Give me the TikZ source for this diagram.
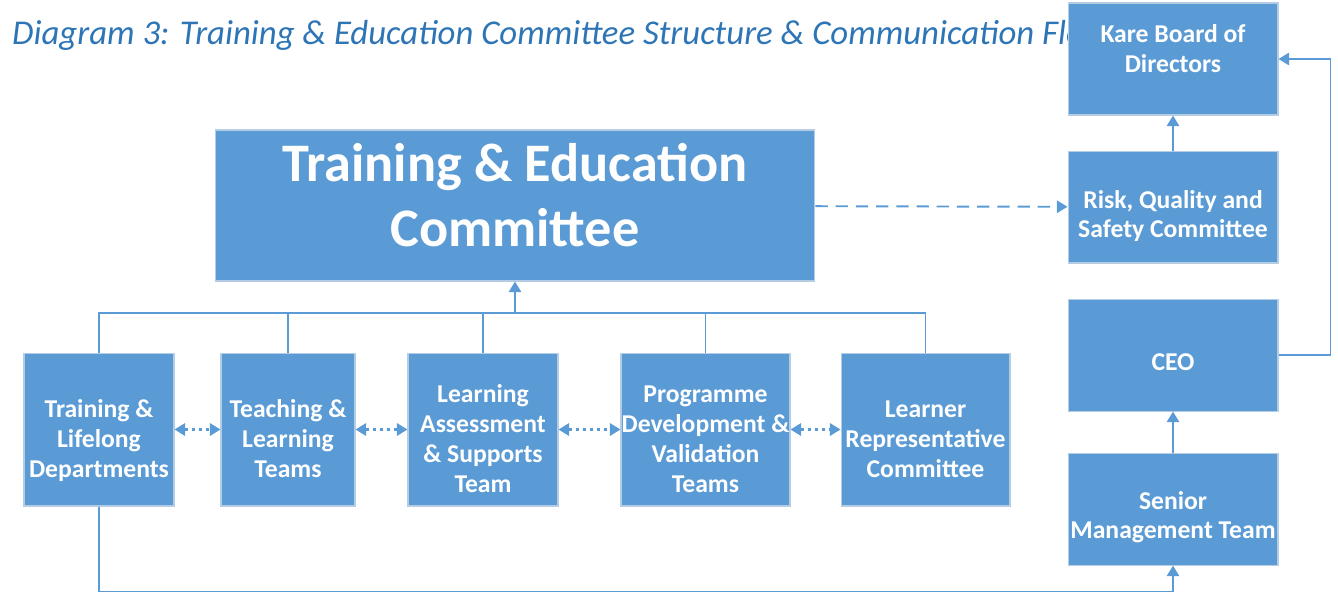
\documentclass[tikz,border=0pt]{standalone}
\usepackage{fontspec}
\setmainfont{Carlito}
\usetikzlibrary{arrows.meta,positioning}
\definecolor{boxblue}{HTML}{5B9BD5}
\definecolor{boxedge}{HTML}{B4CCE4}
\definecolor{titleblue}{HTML}{2E75B6}
\newcommand{\boxlines}[2]{\raisebox{#1}[\height][\depth]{\begin{tabular}{@{}c@{}}#2\end{tabular}}}

\begin{document}
\begin{tikzpicture}[x=0.02cm,y=-0.02cm,node distance=0.7cm,
    >={Triangle[width=7pt,length=6pt]},
    unit/.style={rectangle,fill=boxblue,draw=boxedge,line width=0.6pt,
      text=white,inner sep=0pt,font=\bfseries\fontsize{14.6}{17}\selectfont},
    side/.style={unit,minimum width=4.2cm,minimum height=2.24cm},
    low/.style={unit,minimum height=3.06cm},
    flow/.style={draw=boxblue,line width=1.1pt},
    link/.style={flow,<->,line width=1.3pt,dash pattern=on 2pt off 2pt}]
  \useasboundingbox (0,0) rectangle (1338,593);
  \node[anchor=west,text=titleblue,font=\itshape\fontsize{19.8}{23}\selectfont]
    (title) at (6,35) {Diagram 3: Training \& Education Committee Structure \& Communication Flow};

  % main committee
  \node[unit,minimum width=12cm,minimum height=3.02cm,
    font=\bfseries\fontsize{30.9}{37}\selectfont] (te) at (515,205.5)
    {\boxlines{0.1cm}{Training \& Education\\Committee}};

  % right column
  \node[side] (kare) at (1173,59) {\boxlines{0.15cm}{Kare Board of\\Directors}};
  \node[side] (rqs) [below=of kare] {\boxlines{-0.2cm}{Risk, Quality and\\Safety Committee}};
  \node[side] (ceo) [below=of rqs] {\boxlines{-0.18cm}{CEO}};
  \node[side] (smt) [below=0.82cm of ceo] {\boxlines{-0.18cm}{Senior\\Management Team}};

  % sub groups
  \node[low,minimum width=3cm] (tld) at (99,429.5)
    {\boxlines{-0.24cm}{Training \&\\Lifelong\\Departments}};
  \node[low,minimum width=2.68cm] (tlt) at (288,429.5)
    {\boxlines{-0.24cm}{Teaching \&\\Learning\\Teams}};
  \node[low,minimum width=3cm] (last) at (483,429.5)
    {\boxlines{-0.24cm}{Learning\\Assessment\\\& Supports\\Team}};
  \node[low,minimum width=3.38cm] (pdv) at (705.5,429.5)
    {\boxlines{-0.24cm}{Programme\\Development \&\\Validation\\Teams}};
  \node[low,minimum width=3.38cm] (lrc) at (925.5,429.5)
    {\boxlines{-0.24cm}{Learner\\Representative\\Committee}};

  \coordinate (bus) at (515,313);
  \draw[flow] (tld.north) |- (lrc.north |- bus) -- (lrc.north);
  \draw[flow] (tlt.north) -- (tlt.north |- bus);
  \draw[flow] (last.north) -- (last.north |- bus);
  \draw[flow] (pdv.north) -- (pdv.north |- bus);
  \draw[flow,->] (bus) -- (te.south);

  \draw[link] (tld) -- (tlt);
  \draw[link] (tlt) -- (last);
  \draw[link] (last) -- (pdv);
  \draw[link] (pdv) -- (lrc);

  \draw[flow,->,dash pattern=on 7pt off 4.5pt] (te) -- (rqs);
  \draw[flow,->] (rqs) -- (kare);
  \draw[flow,->] (smt) -- (ceo);
  \draw[flow,->] (ceo.east) -- ++(52,0) |- (kare.east);
  \draw[flow,->] (tld.south) -- ++(0,85) -| (smt.south);
\end{tikzpicture}
\end{document}
